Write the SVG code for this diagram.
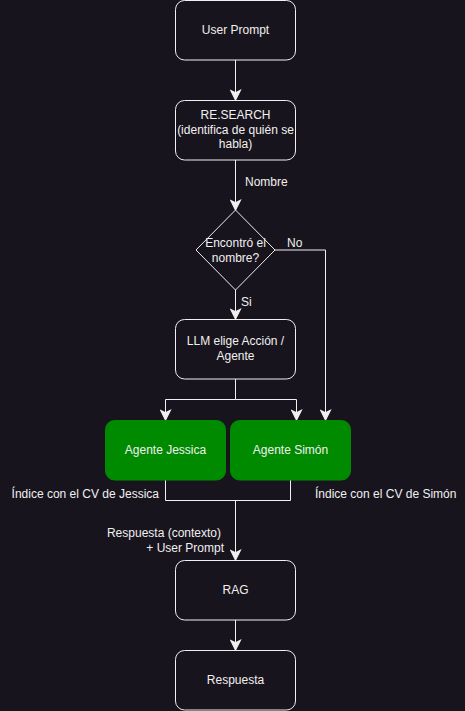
<svg xmlns="http://www.w3.org/2000/svg" width="465" height="711" viewBox="0 0 465 711">
<defs>
<marker id="arr" markerUnits="userSpaceOnUse" markerWidth="12" markerHeight="12" viewBox="0 0 10 10" refX="9" refY="5" orient="auto">
<path d="M1,1 L9,5 L1,9 L3,5 z" fill="#f0f0f0" stroke="#f0f0f0" stroke-width="1"/>
</marker>
<style>
.box{fill:#18141d;stroke:#f0f0f0;stroke-width:1}
.green{fill:#008a00;stroke:#008a00;stroke-width:1}
.t{font-family:"Liberation Sans",Arial,sans-serif;font-size:12px;fill:#f0f0f0;text-anchor:middle}
.l{font-family:"Liberation Sans",Arial,sans-serif;font-size:12px;fill:#f0f0f0}
.c{fill:none;stroke:#f0f0f0;stroke-width:1}
.ca{fill:none;stroke:#f0f0f0;stroke-width:1;marker-end:url(#arr)}
</style>
</defs>
<rect width="465" height="711" fill="#18141d"/>
<g id="connectors">
<path class="ca" d="M235.5,60 V100"/>
<path class="ca" d="M235.5,160 V210"/>
<path class="ca" d="M235.5,290 V319"/>
<path class="ca" d="M275,250 H325.5 V420"/>
<path class="c" d="M235.5,379 V399.5 H165.5"/>
<path class="ca" d="M165.5,399.5 V420"/>
<path class="ca" d="M235.5,399.5 H296.5 V420"/>
<path class="c" d="M165.5,480 V500.5 H290.5 V480"/>
<path class="ca" d="M235.5,500.5 V560"/>
<path class="ca" d="M235.5,620 V650"/>
<text class="l" x="245" y="186">Nombre</text>
<text class="l" x="287" y="247">No</text>
<text class="l" x="241" y="306">Si</text>
<text class="l" x="159" y="498" text-anchor="end">Índice con el CV de Jessica</text>
<text class="l" x="315" y="498">Índice con el CV de Simón</text>
<text class="l" x="221" y="537" text-anchor="end">Respuesta (contexto)</text>
<text class="l" x="224" y="552" text-anchor="end">+ User Prompt</text>
</g>
<g id="user-prompt">
<rect class="box" x="175.5" y="0.5" width="120" height="59.5" rx="9"/>
<text class="t" x="235.5" y="34">User Prompt</text>
</g>
<g id="research">
<rect class="box" x="175.5" y="100.5" width="120" height="59.5" rx="9"/>
<text class="t" x="235.5" y="119">RE.SEARCH</text>
<text class="t" x="235.5" y="134">(identifica de quién se</text>
<text class="t" x="235.5" y="148">habla)</text>
</g>
<g id="decision">
<path class="box" d="M235.5,210 L275,250 L235.5,290 L196,250 z"/>
<text class="t" x="235.5" y="247">Encontró el</text>
<text class="t" x="235.5" y="262">nombre?</text>
</g>
<g id="llm">
<rect class="box" x="175.5" y="319.5" width="120" height="59.5" rx="9"/>
<text class="t" x="235.5" y="345">LLM elige Acción /</text>
<text class="t" x="235.5" y="360">Agente</text>
</g>
<g id="agente-jessica">
<rect class="green" x="105.5" y="420.5" width="120" height="59.5" rx="9"/>
<text class="t" x="165.5" y="454" fill="#ffffff">Agente Jessica</text>
</g>
<g id="agente-simon">
<rect class="green" x="230.5" y="420.5" width="120" height="59.5" rx="9"/>
<text class="t" x="290.5" y="454">Agente Simón</text>
</g>
<g id="rag">
<rect class="box" x="175.5" y="560.5" width="120" height="59.5" rx="9"/>
<text class="t" x="235.5" y="594">RAG</text>
</g>
<g id="respuesta">
<rect class="box" x="175.5" y="650.5" width="120" height="59.5" rx="9"/>
<text class="t" x="235.5" y="684">Respuesta</text>
</g>
</svg>
